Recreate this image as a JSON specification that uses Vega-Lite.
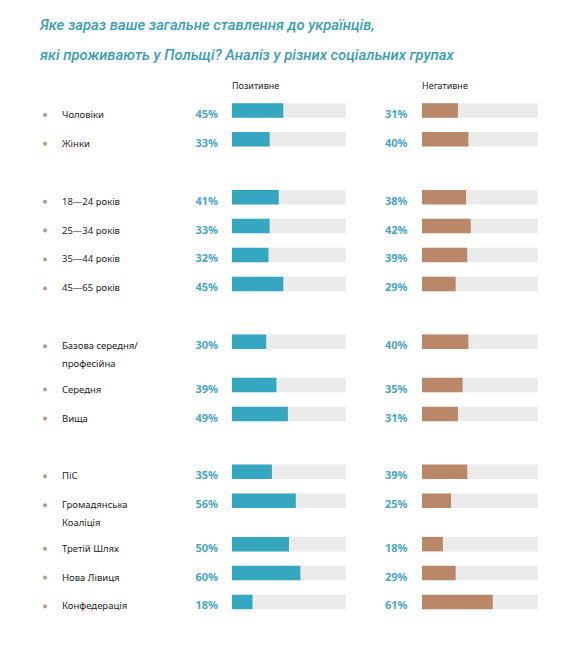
{
  "$schema": "https://vega.github.io/schema/vega-lite/v6.json",
  "autosize": {"type": "pad"},
  "padding": {"left": 40, "top": 18, "right": 5, "bottom": 5},
  "background": "white",
  "bounds": "flush",
  "title": {
    "text": ["Яке зараз ваше загальне ставлення до українців,", "які проживають у Польщі? Аналіз у різних соціальних групах"],
    "anchor": "start",
    "frame": "group",
    "dx": -192,
    "font": "Roboto",
    "fontStyle": "italic",
    "fontWeight": 500,
    "fontSize": 14.8,
    "color": "#3a9db5",
    "lineHeight": 30,
    "baseline": "bottom",
    "offset": 3.5
  },
  "data": {
    "values": [
      {"group": "Чоловіки", "row": 0, "pos": 0.45, "neg": 0.31},
      {"group": "Жінки", "row": 2, "pos": 0.33, "neg": 0.40},
      {"group": "18—24 років", "row": 6, "pos": 0.41, "neg": 0.38},
      {"group": "25—34 років", "row": 8, "pos": 0.33, "neg": 0.42},
      {"group": "35—44 років", "row": 10, "pos": 0.32, "neg": 0.39},
      {"group": "45—65 років", "row": 12, "pos": 0.45, "neg": 0.29},
      {"group": "Базова середня/\nпрофесійна", "row": 16, "pos": 0.30, "neg": 0.40},
      {"group": "Середня", "row": 19, "pos": 0.39, "neg": 0.35},
      {"group": "Вища", "row": 21, "pos": 0.49, "neg": 0.31},
      {"group": "ПіС", "row": 25, "pos": 0.35, "neg": 0.39},
      {"group": "Громадянська\nКоаліція", "row": 27, "pos": 0.56, "neg": 0.25},
      {"group": "Третій Шлях", "row": 30, "pos": 0.50, "neg": 0.18},
      {"group": "Нова Лівиця", "row": 32, "pos": 0.60, "neg": 0.29},
      {"group": "Конфедерація", "row": 34, "pos": 0.18, "neg": 0.61}
    ]
  },
  "spacing": 76,
  "hconcat": [
    {
      "width": 114,
      "height": 536,
      "title": {"text": "Позитивне", "anchor": "start", "frame": "group", "fontSize": 9, "fontWeight": "normal", "color": "#222222", "offset": -7.5, "baseline": "alphabetic", "font": "Noto Sans"},
      "encoding": {
        "y": {"field": "row", "type": "quantitative", "scale": {"domain": [-1.064, 35.317], "reverse": true, "nice": false, "zero": false}, "axis": null}
      },
      "layer": [
        {"mark": {"type": "bar", "orient": "horizontal", "size": 14.5, "color": "#ebebeb"},
         "encoding": {"x": {"datum": 1, "type": "quantitative", "scale": {"domain": [0, 1], "nice": false}, "axis": null}}},
        {"mark": {"type": "bar", "orient": "horizontal", "size": 14.5, "color": "#35a7c0"},
         "encoding": {"x": {"field": "pos", "type": "quantitative"}}},
        {"mark": {"type": "text", "align": "right", "baseline": "alphabetic", "dx": -14, "dy": 7.5, "fontSize": 11, "fontWeight": "bold", "color": "#4aa4bf", "font": "Noto Sans"},
         "encoding": {"x": {"datum": 0, "type": "quantitative"}, "text": {"field": "pos", "type": "quantitative", "format": ".0%"}}},
        {"mark": {"type": "point", "filled": true, "size": 16, "color": "#b49a8c", "opacity": 1, "xOffset": -187, "yOffset": 4.5},
         "encoding": {"x": {"datum": 0, "type": "quantitative"}}},
        {"mark": {"type": "text", "align": "left", "baseline": "alphabetic", "dx": -170, "dy": 7.5, "fontSize": 9.5, "color": "#222222", "lineBreak": "\n", "lineHeight": 17.5, "font": "Noto Sans"},
         "encoding": {"x": {"datum": 0, "type": "quantitative"}, "text": {"field": "group", "type": "nominal"}}}
      ]
    },
    {
      "width": 116,
      "height": 536,
      "title": {"text": "Негативне", "anchor": "start", "frame": "group", "fontSize": 9, "fontWeight": "normal", "color": "#222222", "offset": -7.5, "baseline": "alphabetic", "font": "Noto Sans"},
      "encoding": {
        "y": {"field": "row", "type": "quantitative", "scale": {"domain": [-1.064, 35.317], "reverse": true, "nice": false, "zero": false}, "axis": null}
      },
      "layer": [
        {"mark": {"type": "bar", "orient": "horizontal", "size": 14.5, "color": "#ebebeb"},
         "encoding": {"x": {"datum": 1, "type": "quantitative", "scale": {"domain": [0, 1], "nice": false}, "axis": null}}},
        {"mark": {"type": "bar", "orient": "horizontal", "size": 14.5, "color": "#b98868"},
         "encoding": {"x": {"field": "neg", "type": "quantitative"}}},
        {"mark": {"type": "text", "align": "right", "baseline": "alphabetic", "dx": -14.5, "dy": 7.5, "fontSize": 11, "fontWeight": "bold", "color": "#4aa4bf", "font": "Noto Sans"},
         "encoding": {"x": {"datum": 0, "type": "quantitative"}, "text": {"field": "neg", "type": "quantitative", "format": ".0%"}}}
      ]
    }
  ],
  "config": {"view": {"stroke": null}}
}
